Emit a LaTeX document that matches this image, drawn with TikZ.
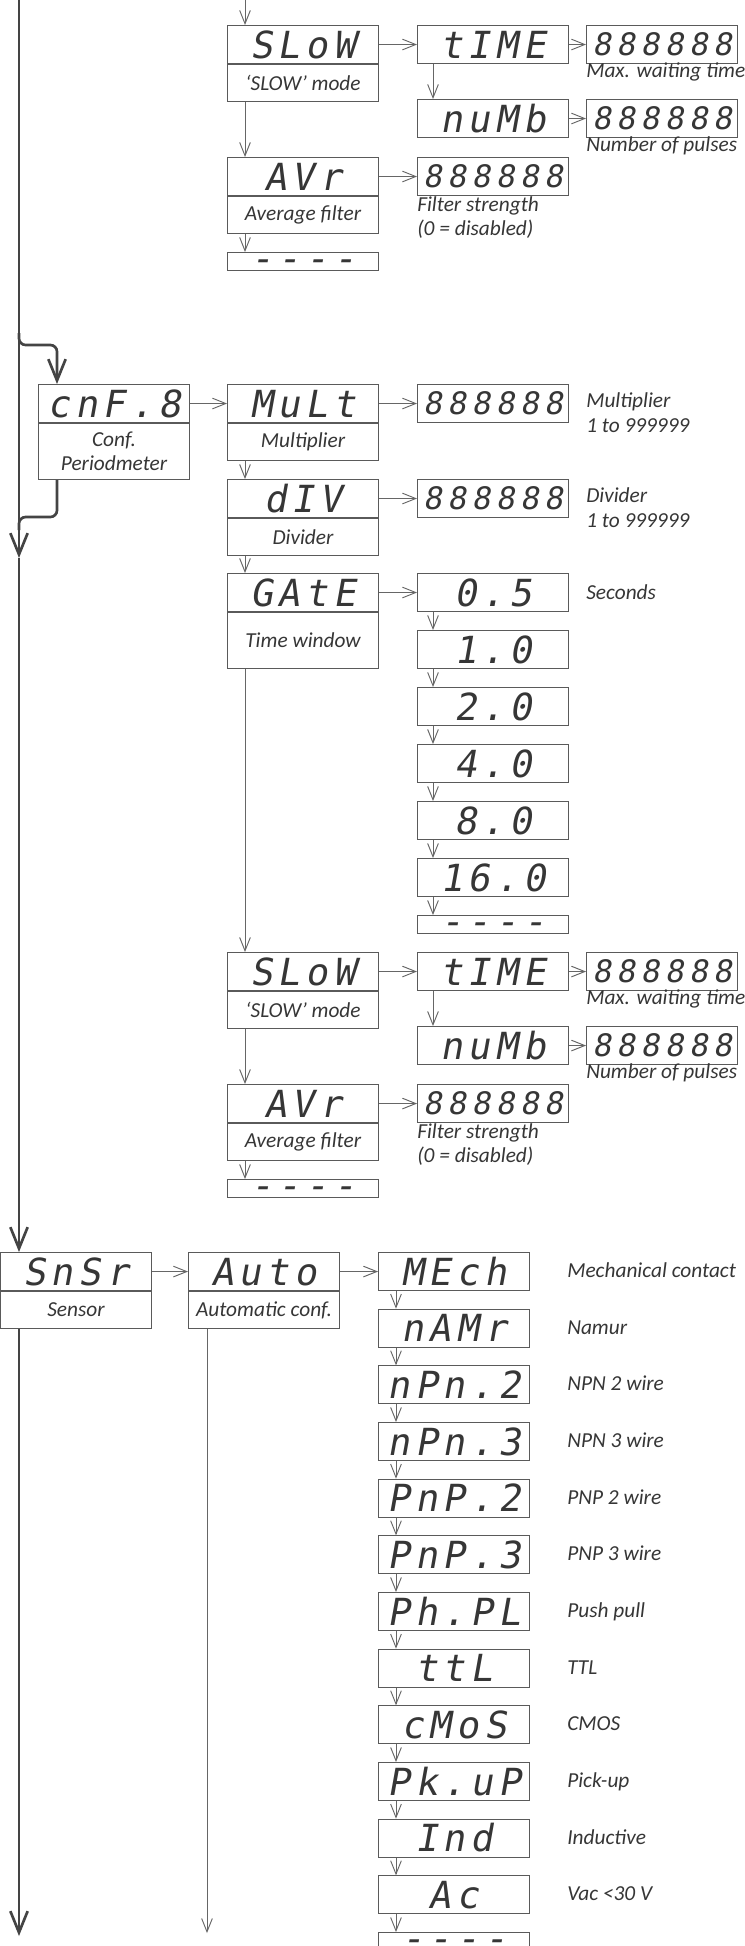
\documentclass[tikz,border=0pt]{standalone}
\usepackage{fontspec}
\usetikzlibrary{arrows.meta}
\newfontfamily\labfont{Carlito}
\newfontfamily\segfont{DejaVu Sans Mono}[FakeSlant=0.18, LetterSpace=14]
\newfontfamily\segsix{DejaVu Sans Mono}[FakeSlant=0.18, LetterSpace=18]
\definecolor{tcol}{HTML}{363636}
\definecolor{bcol}{HTML}{5A5A5A}
\definecolor{acol}{HTML}{666666}
\definecolor{mcol}{HTML}{444444}
\newcommand{\segdashes}{\raisebox{-7.6pt}[0pt][0pt]{-{}-{}-{}-}}
\tikzset{
  segbox/.style={draw=bcol, line width=0.8pt, minimum width=113.25pt, minimum height=28.5pt,
    inner sep=0pt, anchor=north west, text=tcol,
    font=\segfont\fontsize{28}{30}\selectfont, text height=20.4pt, text depth=0pt},
  sixbox/.style={segbox, font=\segsix\fontsize{23.2}{25}\selectfont, text height=16.9pt},
  labbox/.style={draw=bcol, line width=0.8pt, minimum width=113.25pt, minimum height=27.75pt,
    inner sep=0pt, anchor=north west, text=tcol, align=center,
    font=\labfont\itshape\fontsize{16}{18.2}\selectfont},
  tallbox/.style={labbox, minimum height=42pt},
  endbox/.style={draw=bcol, line width=0.8pt, minimum width=113.25pt, minimum height=13.5pt,
    inner sep=0pt, anchor=north west, text=tcol,
    font=\segfont\fontsize{28}{30}\selectfont},
  note/.style={anchor=base west, inner sep=0pt, text=tcol,
    font=\labfont\itshape\fontsize{16}{18.2}\selectfont},
  arr/.style={draw=acol, line width=0.7pt, -{Straight Barb[length=10pt,width=8pt]}},
  main/.style={draw=mcol, line width=2pt},
  mainarr/.style={main, -{Straight Barb[length=16pt,width=13pt]}},
}
\begin{document}
\begin{tikzpicture}[x=0.75pt,y=-0.75pt]
\useasboundingbox (0,0) rectangle (744,1946);
\fill[white] (0,0) rectangle (744,1946);

% ---------- top SLOW / AVr section ----------
\coordinate (tin) at (245,0);
\node[segbox] (slowA) at (227,25) {SLoW};
\node[labbox] (slowAl) at (slowA.south west) {‘SLOW’ mode};
\node[segbox] (timeA) at (417,25) {tIME};
\node[sixbox] (vA1) at (586,25) {888888};
\node[note] (nA1) at (586,77) {Max. waiting time};
\node[segbox] (numbA) at (417,99) {nuMb};
\node[sixbox] (vA2) at (586,99) {888888};
\node[note] (nA2) at (586,151) {Number of pulses};
\node[segbox] (avrA) at (227,157) {AVr};
\node[labbox] (avrAl) at (avrA.south west) {Average filter};
\node[sixbox] (vA3) at (417,157) {888888};
\node[note] (nA3) at (417,211) {Filter strength};
\node[note] (nA4) at (417,235) {(0 = disabled)};
\node[endbox] (endA) at (227,252) {\segdashes};

\draw[arr] (tin) -- ([xshift=13.5pt]slowA.north west);
\draw[arr] (slowA.east) -- (timeA.west);
\draw[arr] (timeA.east) -- (vA1.west);
\draw[arr] ([xshift=12pt]timeA.south west) -- ([xshift=12pt]numbA.north west);
\draw[arr] (numbA.east) -- (vA2.west);
\draw[arr] ([xshift=13.5pt]slowAl.south west) -- ([xshift=13.5pt]avrA.north west);
\draw[arr] (avrA.east) -- (vA3.west);
\draw[arr] ([xshift=13.5pt]avrAl.south west) -- ([xshift=13.5pt]endA.north west);

% ---------- cnF.8 section ----------
\node[segbox] (cnf) at (38,384) {cnF.8};
\node[tallbox] (cnfl) at (cnf.south west) {Conf.\\Periodmeter};
\node[segbox] (mult) at (227,384) {MuLt};
\node[labbox] (multl) at (mult.south west) {Multiplier};
\node[sixbox] (vB1) at (417,384) {888888};
\node[note] (nB1) at (586,407) {Multiplier};
\node[note] (nB2) at (586,432) {1 to 999999};
\node[segbox] (div) at (227,479) {dIV};
\node[labbox] (divl) at (div.south west) {Divider};
\node[sixbox] (vB2) at (417,479) {888888};
\node[note] (nB3) at (586,502) {Divider};
\node[note] (nB4) at (586,527) {1 to 999999};
\node[segbox] (gate) at (227,573) {GAtE};
\node[tallbox] (gatel) at (gate.south west) {Time window};
\node[segbox] (g1) at (417,573) {0.5};
\node[segbox] (g2) at (417,630) {1.0};
\node[segbox] (g3) at (417,687) {2.0};
\node[segbox] (g4) at (417,744) {4.0};
\node[segbox] (g5) at (417,801) {8.0};
\node[segbox] (g6) at (417,858) {16.0};
\node[endbox] (gend) at (417,915) {\segdashes};
\node[note] (nB5) at (586,599) {Seconds};

\draw[arr] (cnf.east) -- (mult.west);
\draw[arr] (mult.east) -- (vB1.west);
\draw[arr] ([xshift=13.5pt]multl.south west) -- ([xshift=13.5pt]div.north west);
\draw[arr] (div.east) -- (vB2.west);
\draw[arr] ([xshift=13.5pt]divl.south west) -- ([xshift=13.5pt]gate.north west);
\draw[arr] (gate.east) -- (g1.west);
\draw[arr] ([xshift=12pt]g1.south west) -- ([xshift=12pt]g2.north west);
\draw[arr] ([xshift=12pt]g2.south west) -- ([xshift=12pt]g3.north west);
\draw[arr] ([xshift=12pt]g3.south west) -- ([xshift=12pt]g4.north west);
\draw[arr] ([xshift=12pt]g4.south west) -- ([xshift=12pt]g5.north west);
\draw[arr] ([xshift=12pt]g5.south west) -- ([xshift=12pt]g6.north west);
\draw[arr] ([xshift=12pt]g6.south west) -- ([xshift=12pt]gend.north west);

% ---------- second SLOW / AVr section ----------
\node[segbox] (slowB) at (227,952) {SLoW};
\node[labbox] (slowBl) at (slowB.south west) {‘SLOW’ mode};
\node[segbox] (timeB) at (417,952) {tIME};
\node[sixbox] (vC1) at (586,952) {888888};
\node[note] (nC1) at (586,1004) {Max. waiting time};
\node[segbox] (numbB) at (417,1026) {nuMb};
\node[sixbox] (vC2) at (586,1026) {888888};
\node[note] (nC2) at (586,1078) {Number of pulses};
\node[segbox] (avrB) at (227,1084) {AVr};
\node[labbox] (avrBl) at (avrB.south west) {Average filter};
\node[sixbox] (vC3) at (417,1084) {888888};
\node[note] (nC3) at (417,1138) {Filter strength};
\node[note] (nC4) at (417,1162) {(0 = disabled)};
\node[endbox] (endB) at (227,1179) {\segdashes};

\draw[arr] ([xshift=13.5pt]gatel.south west) -- ([xshift=13.5pt]slowB.north west);
\draw[arr] (slowB.east) -- (timeB.west);
\draw[arr] (timeB.east) -- (vC1.west);
\draw[arr] ([xshift=12pt]timeB.south west) -- ([xshift=12pt]numbB.north west);
\draw[arr] (numbB.east) -- (vC2.west);
\draw[arr] ([xshift=13.5pt]slowBl.south west) -- ([xshift=13.5pt]avrB.north west);
\draw[arr] (avrB.east) -- (vC3.west);
\draw[arr] ([xshift=13.5pt]avrBl.south west) -- ([xshift=13.5pt]endB.north west);

% ---------- sensor section ----------
\node[segbox] (sn) at (0,1252) {SnSr};
\node[labbox] (snl) at (sn.south west) {Sensor};
\node[segbox] (auto) at (188,1252) {Auto};
\node[labbox] (autol) at (auto.south west) {Automatic conf.};
\node[segbox] (s0) at (378,1252) {MEch};
\node[segbox] (s1) at (378,1308.7) {nAMr};
\node[segbox] (s2) at (378,1365.3) {nPn.2};
\node[segbox] (s3) at (378,1422) {nPn.3};
\node[segbox] (s4) at (378,1478.7) {PnP.2};
\node[segbox] (s5) at (378,1535.3) {PnP.3};
\node[segbox] (s6) at (378,1592) {Ph.PL};
\node[segbox] (s7) at (378,1648.7) {ttL};
\node[segbox] (s8) at (378,1705.3) {cMoS};
\node[segbox] (s9) at (378,1762) {Pk.uP};
\node[segbox] (s10) at (378,1818.7) {Ind};
\node[segbox] (s11) at (378,1875.3) {Ac};
\node[endbox] (send) at (378,1932) {\segdashes};

\node[note] (l0) at (567,1277.5) {Mechanical contact};
\node[note] (l1) at (567,1334.2) {Namur};
\node[note] (l2) at (567,1390.8) {NPN 2 wire};
\node[note] (l3) at (567,1447.5) {NPN 3 wire};
\node[note] (l4) at (567,1504.2) {PNP 2 wire};
\node[note] (l5) at (567,1560.8) {PNP 3 wire};
\node[note] (l6) at (567,1617.5) {Push pull};
\node[note] (l7) at (567,1674.2) {TTL};
\node[note] (l8) at (567,1730.8) {CMOS};
\node[note] (l9) at (567,1787.5) {Pick-up};
\node[note] (l10) at (567,1844.2) {Inductive};
\node[note] (l11) at (567,1900.8) {Vac <30 V};

\draw[arr] (sn.east) -- (auto.west);
\draw[arr] (auto.east) -- (s0.west);
\draw[arr] ([xshift=13.5pt]s0.south west) -- ([xshift=13.5pt]s1.north west);
\draw[arr] ([xshift=13.5pt]s1.south west) -- ([xshift=13.5pt]s2.north west);
\draw[arr] ([xshift=13.5pt]s2.south west) -- ([xshift=13.5pt]s3.north west);
\draw[arr] ([xshift=13.5pt]s3.south west) -- ([xshift=13.5pt]s4.north west);
\draw[arr] ([xshift=13.5pt]s4.south west) -- ([xshift=13.5pt]s5.north west);
\draw[arr] ([xshift=13.5pt]s5.south west) -- ([xshift=13.5pt]s6.north west);
\draw[arr] ([xshift=13.5pt]s6.south west) -- ([xshift=13.5pt]s7.north west);
\draw[arr] ([xshift=13.5pt]s7.south west) -- ([xshift=13.5pt]s8.north west);
\draw[arr] ([xshift=13.5pt]s8.south west) -- ([xshift=13.5pt]s9.north west);
\draw[arr] ([xshift=13.5pt]s9.south west) -- ([xshift=13.5pt]s10.north west);
\draw[arr] ([xshift=13.5pt]s10.south west) -- ([xshift=13.5pt]s11.north west);
\draw[arr] ([xshift=13.5pt]s11.south west) -- ([xshift=13.5pt]send.north west);

% ---------- main thick line ----------
\coordinate (mtop) at (19,0);
\coordinate (mmid) at (19,558);
\coordinate (bout) at (19,333);
\coordinate (bjoin) at (19,517);
\coordinate (bin) at (19,530);
\coordinate (mend) at (19,1936);
\coordinate (aend) at (207,1933);
\draw[mainarr] (mtop) -- (mmid);
\draw[mainarr] (mmid) -- ([xshift=14.25pt]sn.north west);
\draw[mainarr, rounded corners=5pt] (bout) |- ([xshift=14.25pt,yshift=29.25pt]cnf.north west) -- ([xshift=14.25pt]cnf.north west);
\draw[main, rounded corners=5pt] ([xshift=14.25pt]cnfl.south west) |- (bjoin) -- (bin);
\draw[mainarr] ([xshift=14.25pt]snl.south west) -- (mend);
\draw[arr] ([xshift=14.25pt]autol.south west) -- (aend);
\end{tikzpicture}
\end{document}
